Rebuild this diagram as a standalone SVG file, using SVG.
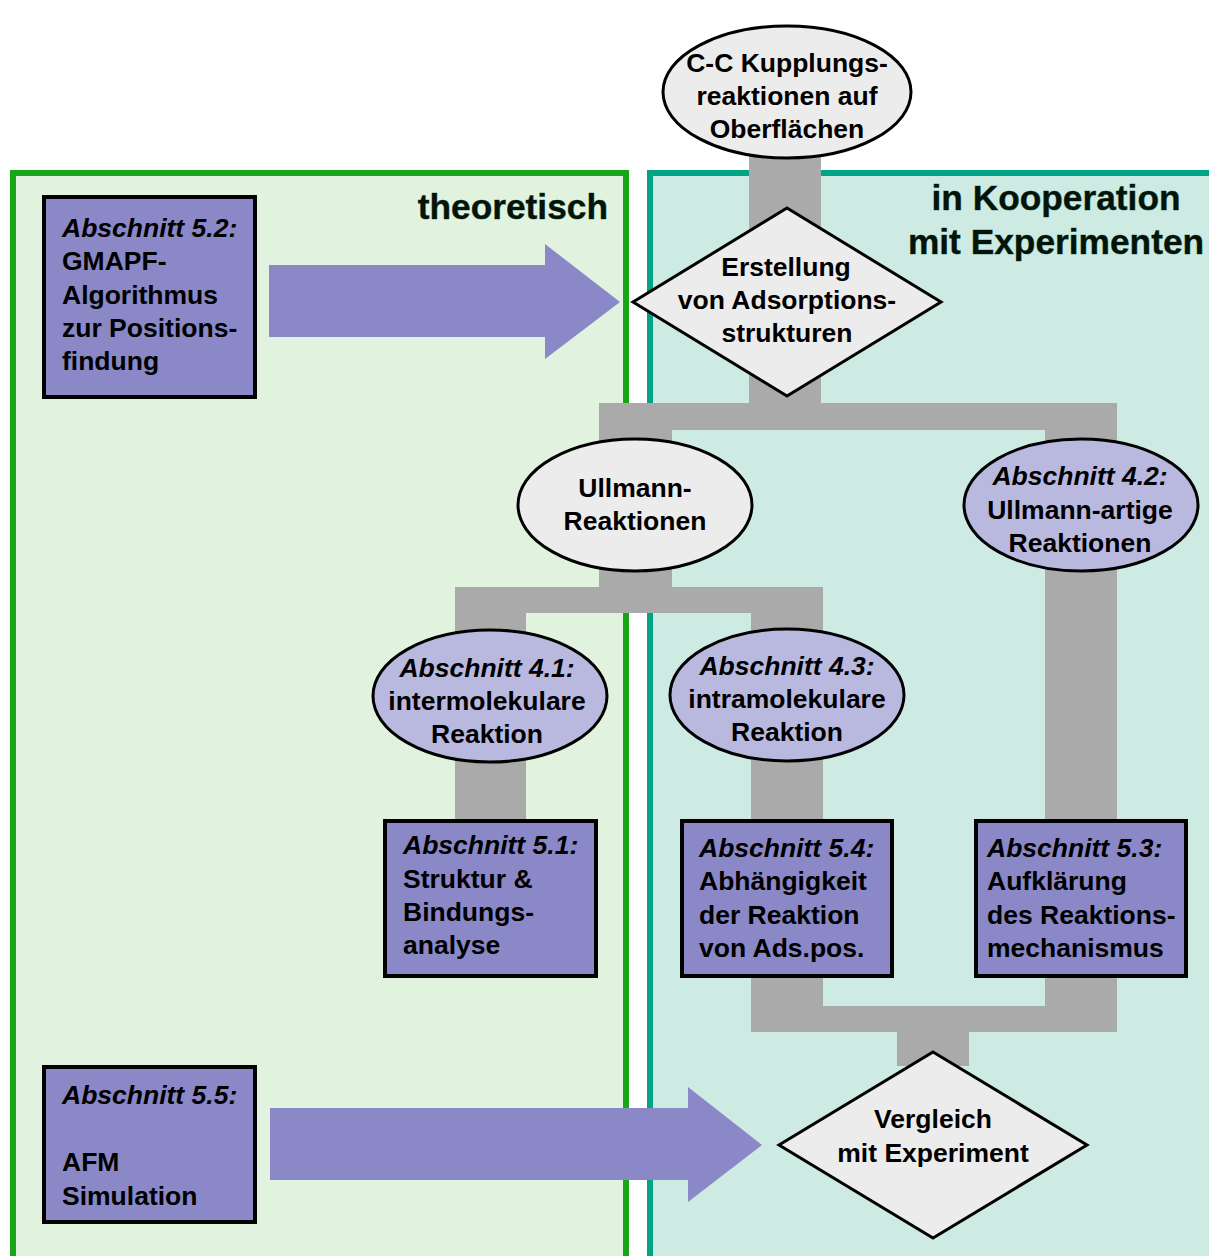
<svg xmlns="http://www.w3.org/2000/svg" width="1209" height="1256" viewBox="0 0 1209 1256">
<style>
  .t{font-family:"Liberation Sans",Arial,sans-serif;font-weight:bold;font-size:26.5px;fill:#000}
  .c{text-anchor:middle}
  .i{font-style:italic}
  .title{font-family:"Liberation Sans",Arial,sans-serif;font-weight:bold;font-size:35.3px;fill:#04140a;stroke:#1a6a44;stroke-width:0.5;paint-order:stroke}
  .bar{fill:#aaaaaa}
  .grey{fill:#ececec;stroke:#000;stroke-width:3}
  .lav{fill:#b9b9e0;stroke:#000;stroke-width:3}
  .box{fill:#8a88c7;stroke:#000;stroke-width:4}
  .arrow{fill:#8a88c7}
</style>
<rect width="1209" height="1256" fill="#fff"/>
<g id="panel-theoretisch">
  <rect x="13" y="173" width="613" height="1200" fill="#e1f3df" stroke="#18a518" stroke-width="6"/>
  <text class="title" x="608" y="219" text-anchor="end" font-size="34.3">theoretisch</text>
</g>
<g id="panel-kooperation">
  <rect x="650" y="173" width="620" height="1200" fill="#cdeae3" stroke="#00a383" stroke-width="6"/>
  <text class="title c" x="1056" y="210">in Kooperation</text>
  <text class="title c" x="1056" y="254">mit Experimenten</text>
</g>
<g id="connectors">
  <rect class="bar" x="749" y="150" width="72" height="280"/>
  <rect class="bar" x="599" y="403" width="518" height="27"/>
  <rect class="bar" x="599" y="403" width="73" height="210"/>
  <rect class="bar" x="1045" y="403" width="72" height="629"/>
  <rect class="bar" x="455" y="587" width="368" height="26"/>
  <rect class="bar" x="455" y="587" width="71" height="243"/>
  <rect class="bar" x="751" y="587" width="72" height="445"/>
  <rect class="bar" x="751" y="1006" width="366" height="26"/>
  <rect class="bar" x="897" y="1006" width="72" height="60"/>
  <polygon class="arrow" points="269,265 545,265 545,244 620,302 545,359 545,337 269,337"/>
  <polygon class="arrow" points="270,1108 688,1108 688,1087 762,1145 688,1202 688,1180 270,1180"/>
</g>
<g id="node-cc">
  <ellipse class="grey" cx="787" cy="92" rx="124" ry="66"/>
  <text class="t c" x="787" y="72">C-C Kupplungs-</text>
  <text class="t c" x="787" y="105">reaktionen auf</text>
  <text class="t c" x="787" y="138">Oberflächen</text>
</g>
<g id="node-erstellung">
  <polygon class="grey" points="787,208 941,302 787,396 633,302"/>
  <text class="t c" x="786" y="276">Erstellung</text>
  <text class="t c" x="787" y="309">von Adsorptions-</text>
  <text class="t c" x="787" y="342">strukturen</text>
</g>
<g id="node-ullmann">
  <ellipse class="grey" cx="635" cy="505" rx="117" ry="66"/>
  <text class="t c" x="635" y="497">Ullmann-</text>
  <text class="t c" x="635" y="530">Reaktionen</text>
</g>
<g id="node-4-2">
  <ellipse class="lav" cx="1081" cy="505" rx="117" ry="66"/>
  <text class="t c i" x="1080" y="485">Abschnitt 4.2:</text>
  <text class="t c" x="1080" y="519">Ullmann-artige</text>
  <text class="t c" x="1080" y="552">Reaktionen</text>
</g>
<g id="node-4-1">
  <ellipse class="lav" cx="490" cy="696" rx="117" ry="66"/>
  <text class="t c i" x="487" y="677">Abschnitt 4.1:</text>
  <text class="t c" x="487" y="710">intermolekulare</text>
  <text class="t c" x="487" y="743">Reaktion</text>
</g>
<g id="node-4-3">
  <ellipse class="lav" cx="787" cy="695" rx="117" ry="66"/>
  <text class="t c i" x="787" y="675">Abschnitt 4.3:</text>
  <text class="t c" x="787" y="708">intramolekulare</text>
  <text class="t c" x="787" y="741">Reaktion</text>
</g>
<g id="node-5-2">
  <rect class="box" x="44" y="197" width="211" height="200"/>
  <text class="t i" x="62" y="237">Abschnitt 5.2:</text>
  <text class="t" x="62" y="270">GMAPF-</text>
  <text class="t" x="62" y="304">Algorithmus</text>
  <text class="t" x="62" y="337">zur Positions-</text>
  <text class="t" x="62" y="370">findung</text>
</g>
<g id="node-5-1">
  <rect class="box" x="385" y="821" width="211" height="155"/>
  <text class="t i" x="403" y="854">Abschnitt 5.1:</text>
  <text class="t" x="403" y="888">Struktur &amp;</text>
  <text class="t" x="403" y="921">Bindungs-</text>
  <text class="t" x="403" y="954">analyse</text>
</g>
<g id="node-5-4">
  <rect class="box" x="682" y="821" width="210" height="155"/>
  <text class="t i" x="699" y="857">Abschnitt 5.4:</text>
  <text class="t" x="699" y="890">Abhängigkeit</text>
  <text class="t" x="699" y="924">der Reaktion</text>
  <text class="t" x="699" y="957">von Ads.pos.</text>
</g>
<g id="node-5-3">
  <rect class="box" x="976" y="821" width="210" height="155"/>
  <text class="t i" x="987" y="857">Abschnitt 5.3:</text>
  <text class="t" x="987" y="890">Aufklärung</text>
  <text class="t" x="987" y="924">des Reaktions-</text>
  <text class="t" x="987" y="957">mechanismus</text>
</g>
<g id="node-5-5">
  <rect class="box" x="44" y="1067" width="211" height="155"/>
  <text class="t i" x="62" y="1104">Abschnitt 5.5:</text>
  <text class="t" x="62" y="1171">AFM</text>
  <text class="t" x="62" y="1205">Simulation</text>
</g>
<g id="node-vergleich">
  <polygon class="grey" points="933,1052 1087,1145 933,1238 779,1145"/>
  <text class="t c" x="933" y="1128">Vergleich</text>
  <text class="t c" x="933" y="1162">mit Experiment</text>
</g>
</svg>
